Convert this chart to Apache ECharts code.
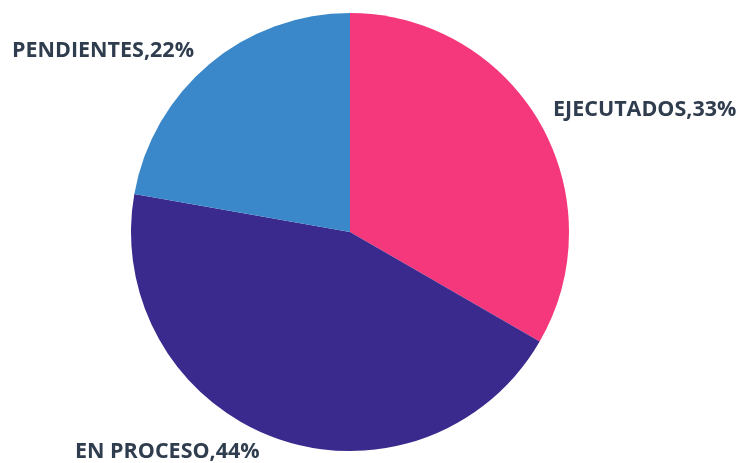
<!DOCTYPE html>
<html><head><meta charset="utf-8">
<script src="https://cdn.jsdelivr.net/npm/echarts@6/dist/echarts.min.js"></script>
<style>html,body{margin:0;padding:0;background:#fff}#c{width:744px;height:463px}</style>
</head><body><div id="c"></div>
<script>
const categories = ['EJECUTADOS', 'EN PROCESO', 'PENDIENTES'];
const values = [3, 4, 2];
const colors = ['#F5377B', '#3A2A8D', '#3A88C9'];
const labelPos = [
  {x: 553, y: 110, align: 'left'},
  {x: 75, y: 452, align: 'left'},
  {x: 12, y: 51, align: 'left'}
];
const chart = echarts.init(document.getElementById('c'));
chart.setOption({
  animation: false,
  series: [{
    type: 'pie',
    center: [350, 232],
    radius: 219,
    startAngle: 90,
    clockwise: true,
    data: categories.map((n, i) => ({name: n, value: values[i], itemStyle: {color: colors[i]}})),
    label: {
      show: true,
      position: 'outside',
      formatter: p => p.name + ',' + Math.round(p.percent) + '%',
      fontFamily: 'Open Sans',
      fontWeight: 'bold',
      fontSize: 21.5,
      color: '#2F3D4E',
      overflow: 'none',
      width: 300
    },
    labelLine: {show: false},
    labelLayout: p => ({x: labelPos[p.dataIndex].x, y: labelPos[p.dataIndex].y, align: labelPos[p.dataIndex].align, verticalAlign: 'middle'})
  }]
});
</script></body></html>
